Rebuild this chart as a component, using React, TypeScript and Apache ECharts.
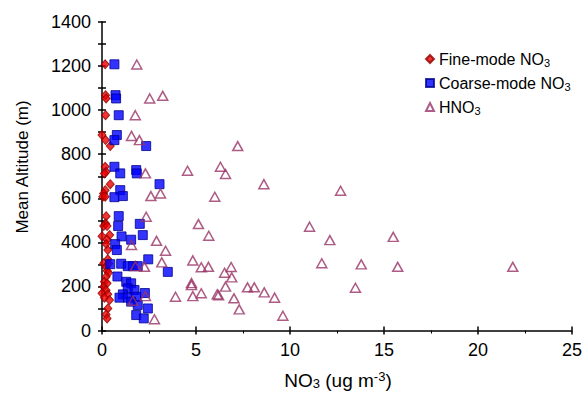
import React, { useEffect, useRef } from 'react';
import * as echarts from 'echarts';

// [NO3 (ug m-3), Mean Altitude (m)]
const fineMode: [number, number][] = [
  [0.17, 1208], [0.19, 1068], [0.22, 1053], [0.19, 977], [0.0, 887], [0.19, 864],
  [0.44, 837], [0.17, 743], [0.22, 720], [0.13, 713], [0.44, 664], [0.17, 637],
  [0.08, 622], [0.04, 607], [0.17, 607], [0.22, 519], [0.19, 486], [0.09, 474],
  [0.27, 474], [0.0, 428], [0.41, 433], [0.27, 412], [0.22, 392], [0.31, 365],
  [0.31, 323], [0.09, 305], [0.35, 304], [0.22, 289], [0.27, 271], [0.35, 262],
  [0.22, 244], [0.13, 221], [0.27, 214], [0.09, 199], [0.22, 183], [0.0, 169],
  [0.31, 164], [0.13, 149], [0.4, 138], [0.31, 100], [0.22, 73], [0.27, 55],
];

const coarseMode: [number, number][] = [
  [0.66, 1208], [0.72, 1068], [0.75, 1053], [0.89, 977], [0.79, 887], [0.66, 864],
  [2.35, 837], [0.66, 743], [0.97, 713], [1.82, 728], [1.85, 713], [3.06, 664],
  [0.97, 637], [0.66, 605], [1.11, 610], [0.89, 519], [0.86, 474], [2.01, 484],
  [1.04, 427], [1.55, 412], [2.17, 433], [0.7, 392], [0.79, 365], [2.46, 323],
  [0.44, 301], [1.02, 303], [1.37, 292], [1.64, 292], [1.9, 292], [3.5, 266],
  [0.82, 245], [1.29, 221], [1.55, 214], [1.37, 191], [1.73, 184], [2.28, 170],
  [1.11, 164], [0.93, 149], [1.37, 149], [1.82, 153], [1.55, 131], [1.9, 116],
  [2.44, 100], [1.82, 70], [2.22, 55],
];

const hno3: [number, number][] = [
  [1.85, 1207], [2.54, 1053], [3.23, 1065], [1.77, 977], [1.57, 883], [1.99, 864],
  [7.22, 837], [2.31, 713], [4.55, 725], [6.3, 743], [6.57, 710], [8.61, 664],
  [2.6, 610], [3.11, 622], [6.0, 607], [2.35, 516], [5.13, 483], [5.68, 430],
  [1.57, 388], [2.9, 407], [3.38, 362], [3.18, 309], [4.83, 318], [5.28, 287],
  [5.66, 289], [6.87, 288], [6.52, 262], [6.9, 241], [4.76, 215], [4.76, 206],
  [6.57, 199], [7.74, 196], [8.1, 196], [8.63, 173], [1.78, 292], [2.26, 289],
  [3.91, 153], [4.83, 156], [5.28, 169], [6.13, 164], [6.2, 160], [7.02, 146],
  [7.3, 96], [2.31, 156], [1.64, 135], [2.79, 51], [9.18, 149], [9.62, 67],
  [11.04, 471], [12.69, 634], [12.12, 410], [15.49, 425], [11.69, 305], [13.79, 300],
  [15.73, 289], [21.85, 289], [13.48, 194],
];

const seriesNames = ['Fine-mode NO3', 'Coarse-mode NO3', 'HNO3'];
const legendLabels: Record<string, string> = {
  'Fine-mode NO3': '{a|Fine-mode NO}{s|3}',
  'Coarse-mode NO3': '{a|Coarse-mode NO}{s|3}',
  'HNO3': '{a|HNO}{s|3}',
};
const xTitle = '{a|NO}{s|3}{a| (ug m}{p|-3}{a|)}';
const yTitle = 'Mean Altitude (m)';

const FONT = '"Liberation Sans", Arial, sans-serif';

export default function App() {
  const ref = useRef<HTMLDivElement>(null);
  useEffect(() => {
    if (!ref.current) return;
    const chart = echarts.init(ref.current, undefined, { renderer: 'svg' });
    const axisLine = { show: true, lineStyle: { color: '#000', width: 1.5 } };
    const tickStyle = { color: '#000', width: 1.5 };
    chart.setOption({
      animation: false,
      backgroundColor: '#fff',
      grid: { left: 102, right: 15, top: 22, bottom: 62.5 },
      legend: {
        orient: 'vertical',
        left: 420,
        top: 46,
        itemGap: 7,
        itemWidth: 8,
        itemHeight: 8,
        data: seriesNames,
        formatter: (n: string) => legendLabels[n] || n,
        textStyle: {
          color: '#000',
          fontFamily: FONT,
          rich: {
            a: { fontSize: 16, lineHeight: 18, fontFamily: FONT, color: '#000' },
            s: { fontSize: 11, lineHeight: 9, verticalAlign: 'bottom', fontFamily: FONT, color: '#000' },
          },
        },
      },
      xAxis: [
        {
          type: 'value', min: 0, max: 25, interval: 5, position: 'bottom',
          axisLine, splitLine: { show: false },
          axisTick: { show: true, length: 4, lineStyle: tickStyle },
          minorTick: { show: true, splitNumber: 2, length: 3, lineStyle: { color: '#000', width: 1 } },
          axisLabel: { color: '#000', fontSize: 18, fontFamily: FONT, margin: 10 },
        },
        {
          type: 'value', min: 0, max: 25, interval: 5, position: 'bottom',
          axisLine: { show: false }, splitLine: { show: false },
          axisTick: { show: true, inside: true, length: 4, lineStyle: tickStyle },
          axisLabel: { show: false },
        },
      ],
      yAxis: [
        {
          type: 'value', min: 0, max: 1400, interval: 100, position: 'left',
          axisLine, splitLine: { show: false },
          axisTick: { show: true, length: 4, lineStyle: tickStyle },
          axisLabel: {
            color: '#000', fontSize: 18, fontFamily: FONT, margin: 11,
            formatter: (v: number) => (v % 200 === 0 ? String(v) : ''),
          },
        },
        {
          type: 'value', min: 0, max: 1400, interval: 100, position: 'left',
          axisLine: { show: false }, splitLine: { show: false },
          axisTick: { show: true, inside: true, length: 4, lineStyle: tickStyle },
          axisLabel: { show: false },
        },
      ],
      graphic: [
        {
          type: 'text',
          x: 22,
          y: 167,
          rotation: Math.PI / 2,
          style: {
            text: yTitle,
            fontSize: 17,
            fontFamily: FONT,
            fill: '#000',
            align: 'center',
            verticalAlign: 'middle',
          },
        },
        {
          type: 'text',
          x: 338,
          y: 380,
          style: {
            text: xTitle,
            align: 'center',
            verticalAlign: 'middle',
            fill: '#000',
            fontFamily: FONT,
            rich: {
              a: { fontSize: 19, lineHeight: 20, fontFamily: FONT, fill: '#000' },
              s: { fontSize: 13, lineHeight: 10, verticalAlign: 'bottom', fontFamily: FONT, fill: '#000' },
              p: { fontSize: 13, lineHeight: 10, verticalAlign: 'top', fontFamily: FONT, fill: '#000' },
            },
          },
        },
      ],
      series: [
        {
          name: seriesNames[0],
          type: 'scatter',
          xAxisIndex: 0, yAxisIndex: 0,
          symbol: 'diamond',
          symbolSize: [8, 9],
          itemStyle: { color: '#ee0000', borderColor: '#900000', borderWidth: 1 },
          data: fineMode,
        },
        {
          name: seriesNames[1],
          type: 'scatter',
          xAxisIndex: 0, yAxisIndex: 0,
          symbol: 'rect',
          symbolSize: 9,
          itemStyle: { color: '#0000ff', borderColor: '#000090', borderWidth: 1 },
          data: coarseMode,
        },
        {
          name: seriesNames[2],
          type: 'scatter',
          xAxisIndex: 0, yAxisIndex: 0,
          symbol: 'triangle',
          symbolSize: [10, 9],
          itemStyle: { color: 'rgba(255,255,255,0)', borderColor: '#993366', borderWidth: 1.5 },
          data: hno3,
        },
      ],
    });
    return () => chart.dispose();
  }, []);
  return (
    <div
      ref={ref}
      style={{ position: 'fixed', left: 0, top: 0, width: 587, height: 393 }}
    />
  );
}
